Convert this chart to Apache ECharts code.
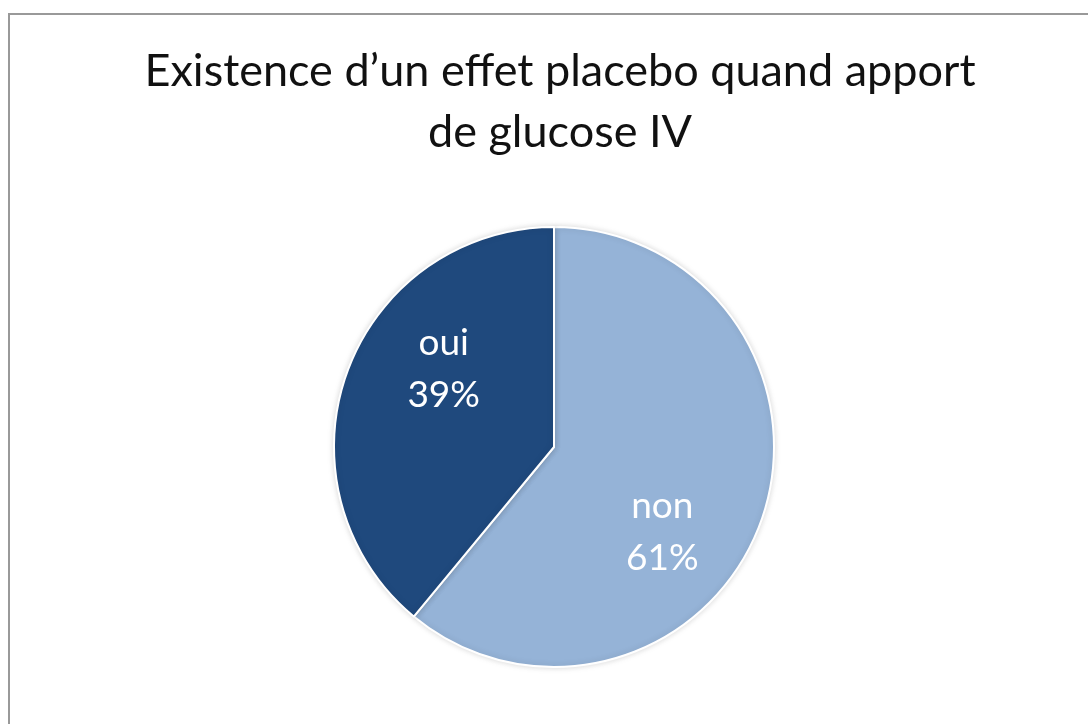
<!DOCTYPE html>
<html>
<head>
<meta charset="utf-8">
<script src="https://cdn.jsdelivr.net/npm/echarts@6/dist/echarts.min.js"></script>
<style>
  html, body { margin: 0; padding: 0; background: #fff; }
  #frame { position: absolute; left: 8px; top: 13px; width: 1200px; height: 800px; border: 2px solid #999; box-sizing: border-box; }
  #chart { position: absolute; left: 0; top: 0; width: 1088px; height: 724px; }
</style>
</head>
<body>
<div id="frame"></div>
<div id="chart"></div>
<script>
// données
var categories = ["non", "oui"];
var values = [61, 39];
var colors = ["#95b3d7", "#1f497d"];
var titleText = "Existence d\u2019un effet placebo quand apport\nde glucose IV";

// décalage des étiquettes (comme Excel)
var labelOffsets = [[2, 47], [-4, -40]];

var chartDom = document.getElementById("chart");
var myChart = echarts.init(chartDom);

var pieData = categories.map(function (name, i) {
  return {
    name: name,
    value: values[i],
    itemStyle: { color: colors[i] },
    label: { offset: labelOffsets[i] },
  };
});

var option = {
  animation: false,
  title: {
    text: titleText,
    left: 555,
    top: 36,
    textAlign: "center",
    textStyle: {
      fontFamily: "Lato",
      fontWeight: "normal",
      fontSize: 45,
      lineHeight: 61,
      color: "#111",
    },
  },
  series: [
    {
      type: "pie",
      center: [554, 447],
      radius: 220,
      startAngle: 90,
      clockwise: true,
      itemStyle: {
        borderColor: "#fff",
        borderWidth: 2,
        shadowColor: "rgba(0,0,0,0.15)",
        shadowBlur: 6,
      },
      label: {
        position: "inside",
        formatter: "{b}\n{d}%",
        color: "#fff",
        fontFamily: "Lato",
        fontSize: 37,
        lineHeight: 52,
      },
      labelLine: { show: false },
      data: pieData,
    },
  ],
};

option && myChart.setOption(option);
</script>
</body>
</html>
